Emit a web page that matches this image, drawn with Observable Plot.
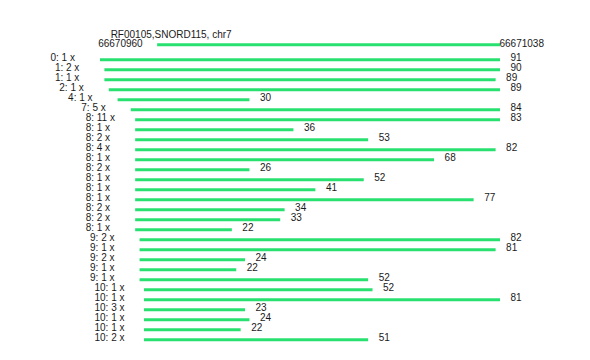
<!DOCTYPE html>
<html>
<head>
<meta charset="utf-8">
<script src="https://cdn.jsdelivr.net/npm/d3@7"></script>
<script src="https://cdn.jsdelivr.net/npm/@observablehq/plot@0.6"></script>
<style>
  body { margin: 0; background: #fff; }
  svg { display: block; }
</style>
</head>
<body>
<div id="chart"></div>
<script>
const title = "RF00105,SNORD115, chr7";
const genomeStart = 66670960;
const genomeEnd = 66671038;
const refStartPos = 13;   // position of genomeStart on the read axis
const refEndPos = 91;     // position of genomeEnd on the read axis

const offsets = [0, 1, 1, 2, 4, 7, 8, 8, 8, 8, 8, 8, 8, 8, 8, 8, 8, 8, 9, 9, 9, 9, 9, 10, 10, 10, 10, 10, 10];
const counts  = [1, 2, 1, 1, 1, 5, 11, 1, 2, 4, 1, 2, 1, 1, 1, 2, 2, 1, 2, 1, 2, 1, 1, 1, 1, 3, 1, 1, 2];
const lengths = [91, 90, 89, 89, 30, 84, 83, 36, 53, 82, 68, 26, 52, 41, 77, 34, 33, 22, 82, 81, 24, 22, 52, 52, 81, 23, 24, 22, 51];

const reads = offsets.map((o, i) => ({
  row: i,
  start: o,
  end: o + lengths[i],
  len: lengths[i],
  label: `${o}: ${counts[i]} x`
}));

const green = "#28e070";
const ink = "#1a1a1a";
const font = "Liberation Sans, Arial, Helvetica, sans-serif";

const plot = Plot.plot({
  width: 590,
  height: 360,
  marginLeft: 100,
  marginRight: 90,
  marginTop: 59.3,
  marginBottom: 20.7,
  x: {domain: [0, 91], axis: null},
  y: {domain: [0, 28], reverse: true, axis: null},
  style: {fontFamily: font, fontSize: "10px", color: ink, background: "#fff"},
  marks: [
    // reference line
    Plot.ruleY([{y: -1.5, x1: refStartPos, x2: refEndPos}], {y: "y", x1: "x1", x2: "x2", stroke: green, strokeWidth: 3}),
    Plot.text([{y: -1.5, x: refStartPos, t: String(genomeStart)}], {x: "x", y: "y", text: "t", textAnchor: "end", dx: -15, dy: -1, fill: ink, fontSize: 10}),
    Plot.text([{y: -1.5, x: refEndPos, t: String(genomeEnd)}], {x: "x", y: "y", text: "t", textAnchor: "start", dx: -1, dy: -1, fill: ink, fontSize: 10}),
    Plot.text([{y: -2.5, x: refStartPos, t: title}], {x: "x", y: "y", text: "t", textAnchor: "start", dx: -47, dy: -0.5, fill: ink, fontSize: 10}),
    // reads
    Plot.ruleY(reads, {y: "row", x1: "start", x2: "end", stroke: green, strokeWidth: 3}),
    Plot.text(reads, {x: "start", y: "row", text: "label", textAnchor: "start", dx: -50, dy: -2.5, fill: ink, fontSize: 10}),
    Plot.text(reads, {x: "end", y: "row", text: d => String(d.len), textAnchor: "start", dx: 10, dy: -2.5, fill: ink, fontSize: 10})
  ]
});
document.getElementById("chart").appendChild(plot);
</script>
</body>
</html>
